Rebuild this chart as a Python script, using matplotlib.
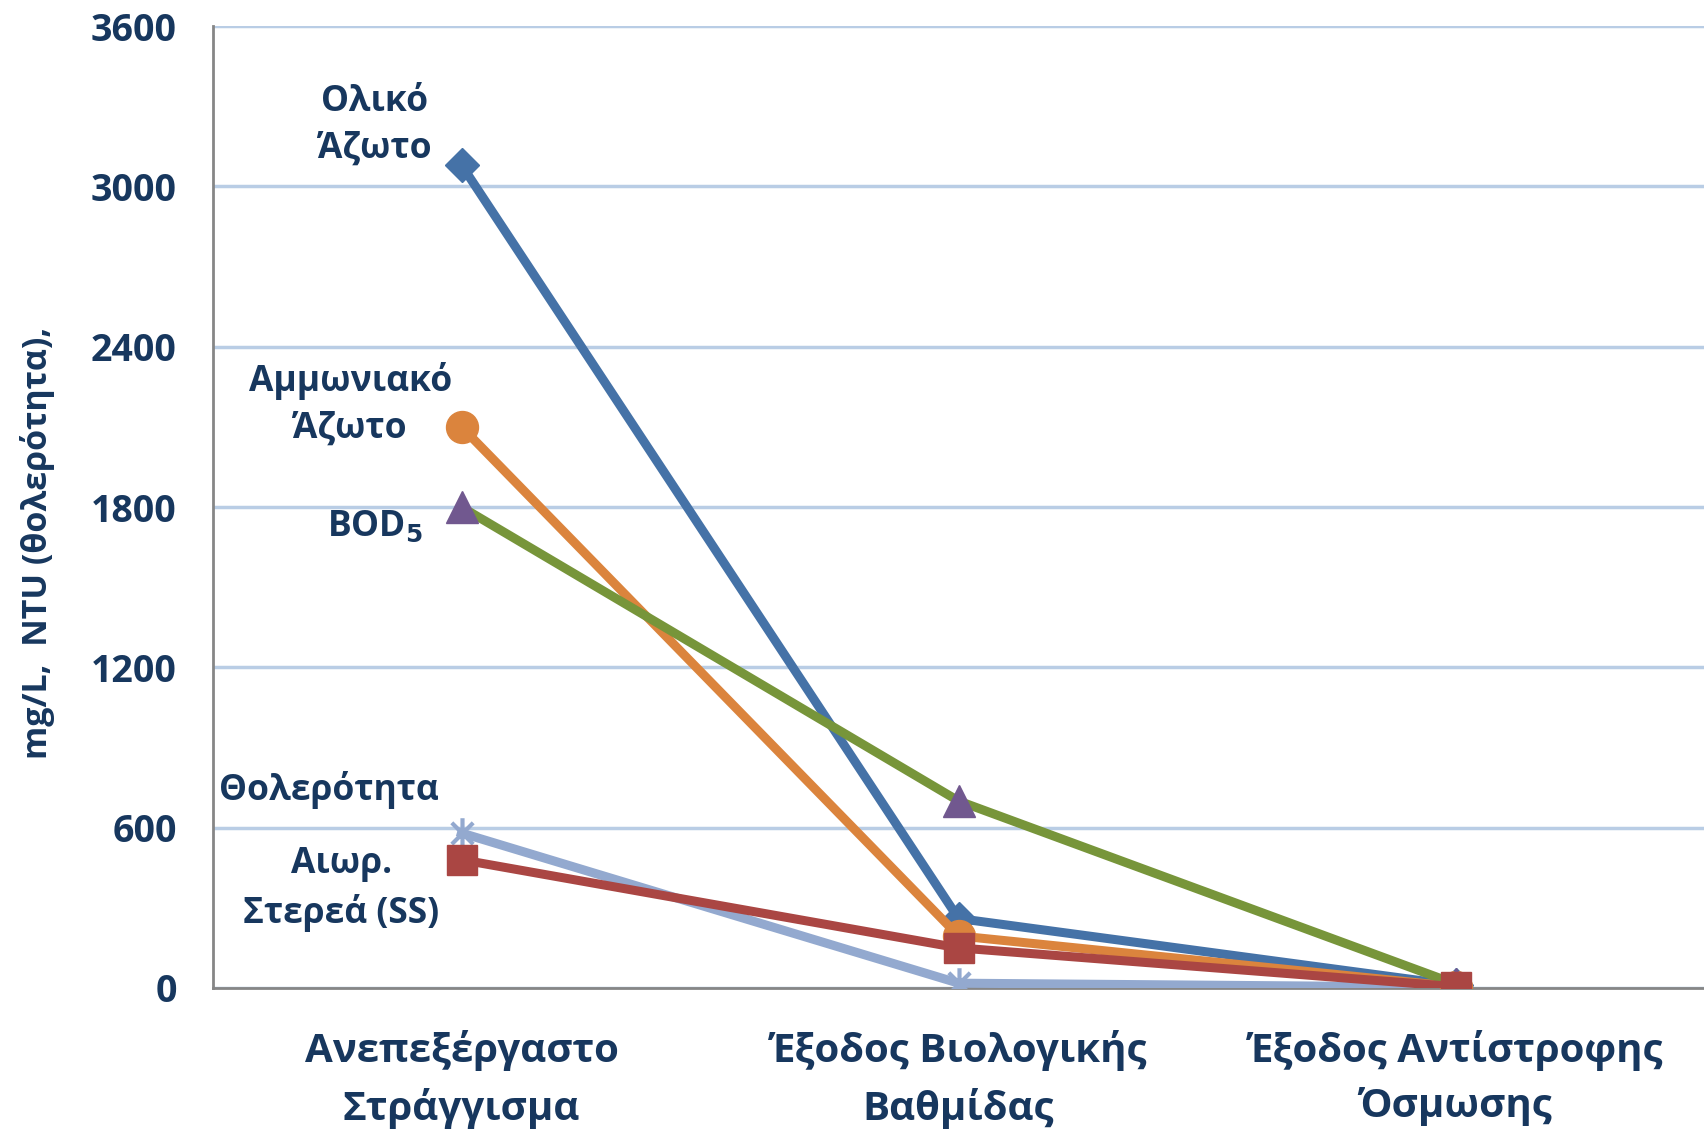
import numpy as np
import matplotlib
matplotlib.use('Agg')
import matplotlib.pyplot as plt
from matplotlib.path import Path

plt.rcParams['font.family'] = ['Open Sans', 'DejaVu Sans']
plt.rcParams['font.weight'] = 'bold'

# data ----
stages = ['Ανεπεξέργαστο\nΣτράγγισμα', 'Έξοδος Βιολογικής\nΒαθμίδας', 'Έξοδος Αντίστροφης\nΌσμωσης']
total_n = [3080, 260, 10]
ammonia_n = [2100, 195, 5]
bod5 = [1800, 700, 15]
turbidity = [580, 18, 3]
ss = [480, 150, 5]

yticks = [0, 600, 1200, 1800, 2400, 3000, 3600]
TXT = '#17375E'

# excel-ish star marker (vertical bar + x)
star = Path([(0, -1), (0, 1), (-0.7, -0.7), (0.7, 0.7), (-0.7, 0.7), (0.7, -0.7)],
            [Path.MOVETO, Path.LINETO, Path.MOVETO, Path.LINETO, Path.MOVETO, Path.LINETO])

fig = plt.figure(figsize=(17.04, 11.33), dpi=100)
ax = fig.add_axes([0.125, 0.128, 0.875, 0.849])
x = np.arange(len(stages))

LW = 6.5
ax.plot(x, total_n, color='#4572A7', lw=LW, marker='D', ms=17, zorder=3)
ax.plot(x, ammonia_n, color='#DB843D', lw=LW, marker='o', ms=23, zorder=4)
ax.plot(x, bod5, color='#77953A', lw=LW, marker='^', ms=23, mfc='#71588F', mec='#71588F', zorder=5)
ax.plot(x, turbidity, color='#93A9CF', lw=LW, marker=star, ms=22, mew=3, zorder=3)
ax.plot(x, ss, color='#AA4643', lw=LW, marker='s', ms=21, zorder=6)

ax.set_xlim(-0.5, 2.5)
ax.set_ylim(0, 3600)
ax.set_yticks(yticks)
ax.set_yticklabels([str(v) for v in yticks], fontsize=27, color=TXT, fontweight='bold')
ax.set_xticks(x)
ax.set_xticklabels(stages, fontsize=29, color=TXT, fontweight='bold', linespacing=1.55)
ax.tick_params(axis='y', length=0, pad=26)
ax.tick_params(axis='x', length=0, pad=30)
ax.yaxis.grid(True, color='#B9CDE5', lw=2.5)
ax.set_axisbelow(True)
for s in ['top', 'right']:
    ax.spines[s].set_visible(False)
for s in ['left', 'bottom']:
    ax.spines[s].set_color('#868686')
    ax.spines[s].set_linewidth(2)
    ax.spines[s].set_zorder(2)

fig.text(0.022, 0.521, 'mg/L,  NTU (θολερότητα),', rotation=90, fontsize=24.5,
         color=TXT, fontweight='bold', ha='center', va='center')

# series labels
kw = dict(fontsize=25.5, color=TXT, fontweight='bold', ha='center', va='center', linespacing=1.42)
ax.text(-0.174, 3228, 'Ολικό\nΆζωτο', **kw)
ax.text(-0.224, 2184, 'Αμμωνιακό\nΆζωτο', **kw)
ax.text(-0.174, 1725, 'BOD$_{5}$', **kw)
ax.text(-0.267, 741, 'Θολερότητα', **kw)
ax.text(-0.242, 370, 'Αιωρ.\nΣτερεά (SS)', **kw)

plt.savefig('out.png', dpi=100)
